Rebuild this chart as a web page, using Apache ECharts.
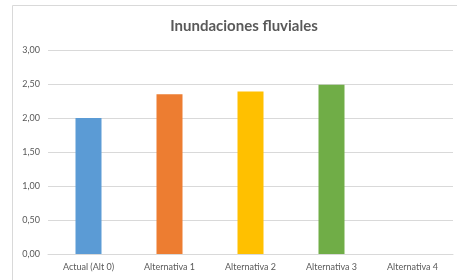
<!DOCTYPE html>
<html><head><meta charset="utf-8">
<script src="https://cdn.jsdelivr.net/npm/echarts@6/dist/echarts.min.js"></script>
<style>html,body{margin:0;padding:0;background:#fff}#c{width:457px;height:280px}</style>
</head><body><div id="c"></div>
<script>
const categories = ['Actual (Alt 0)', 'Alternativa 1', 'Alternativa 2', 'Alternativa 3', 'Alternativa 4'];
const values = [2.00, 2.35, 2.39, 2.49, null];
const barColors = ['#5B9BD5', '#ED7D31', '#FFC000', '#70AD47', '#A5A5A5'];
const yTicks = [0, 0.5, 1, 1.5, 2, 2.5, 3];

const chart = echarts.init(document.getElementById('c'));
chart.setOption({
  animation: false,
  textStyle: { fontFamily: 'Lato' },
  title: {
    text: 'Inundaciones fluviales', left: 239, top: 14, textAlign: 'center',
    textStyle: { fontFamily: 'Lato', fontSize: 15, fontWeight: 'bold', color: '#595959' }
  },
  graphic: [{
    type: 'rect', shape: { x: 12.5, y: 5.5, width: 460, height: 290 },
    style: { fill: 'none', stroke: '#d9d9d9', lineWidth: 1 }, silent: true, z: -1
  }],
  grid: { left: 48, right: 4, top: 50, bottom: 26 },
  xAxis: {
    type: 'category', data: categories,
    axisLine: { lineStyle: { color: '#d9d9d9' } },
    axisTick: { show: false },
    axisLabel: { color: '#595959', fontSize: 9, margin: 9, interval: 0 }
  },
  yAxis: {
    type: 'value', min: yTicks[0], max: yTicks[yTicks.length - 1], interval: 0.5,
    axisLine: { show: false }, axisTick: { show: false },
    splitLine: { lineStyle: { color: '#d9d9d9' } },
    axisLabel: { color: '#595959', fontSize: 9, margin: 8, formatter: v => v.toFixed(2).replace('.', ',') }
  },
  series: [{
    type: 'bar', barWidth: 26,
    data: values.map((v, i) => ({ value: v, itemStyle: { color: barColors[i] } }))
  }]
});
</script></body></html>
